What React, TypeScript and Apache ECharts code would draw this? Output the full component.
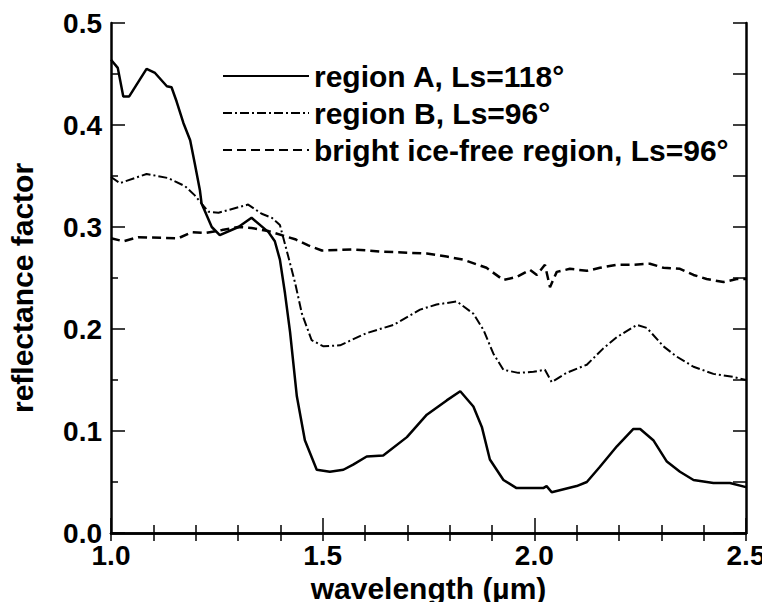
import React, { useEffect, useRef } from "react";
import * as echarts from "echarts";

const seriesNames = [
  "region A, Ls=118°",
  "region B, Ls=96°",
  "bright ice-free region, Ls=96°",
];

const regionA: [number, number][] = [
  [1.0, 0.464], [1.016, 0.456], [1.029, 0.428], [1.043, 0.428], [1.084, 0.455],
  [1.104, 0.451], [1.132, 0.438], [1.143, 0.437], [1.155, 0.423], [1.171, 0.402],
  [1.187, 0.385], [1.198, 0.362], [1.21, 0.336], [1.214, 0.323], [1.238, 0.3],
  [1.257, 0.292], [1.301, 0.3], [1.332, 0.309], [1.372, 0.295], [1.387, 0.286],
  [1.399, 0.268], [1.411, 0.235], [1.423, 0.197], [1.439, 0.134], [1.458, 0.091],
  [1.486, 0.062], [1.517, 0.06], [1.549, 0.062], [1.572, 0.067], [1.604, 0.075],
  [1.643, 0.076], [1.699, 0.094], [1.746, 0.116], [1.793, 0.13], [1.825, 0.139],
  [1.856, 0.124], [1.876, 0.104], [1.895, 0.072], [1.927, 0.052], [1.958, 0.044],
  [2.021, 0.044], [2.029, 0.046], [2.041, 0.04], [2.1, 0.046], [2.124, 0.05],
  [2.155, 0.065], [2.195, 0.085], [2.234, 0.102], [2.25, 0.102], [2.281, 0.091],
  [2.313, 0.07], [2.344, 0.06], [2.376, 0.052], [2.423, 0.049], [2.462, 0.049],
  [2.5, 0.045],
];

const regionB: [number, number][] = [
  [1.0, 0.349], [1.021, 0.343], [1.084, 0.352], [1.135, 0.348], [1.175, 0.34],
  [1.198, 0.331], [1.214, 0.323], [1.23, 0.315], [1.254, 0.314], [1.324, 0.322],
  [1.356, 0.313], [1.38, 0.309], [1.399, 0.302], [1.415, 0.277], [1.435, 0.245],
  [1.451, 0.215], [1.474, 0.189], [1.502, 0.183], [1.541, 0.184], [1.604, 0.196],
  [1.667, 0.204], [1.73, 0.219], [1.769, 0.224], [1.817, 0.227], [1.856, 0.215],
  [1.88, 0.199], [1.903, 0.176], [1.927, 0.16], [1.962, 0.157], [1.998, 0.158],
  [2.025, 0.16], [2.041, 0.148], [2.076, 0.157], [2.124, 0.165], [2.163, 0.181],
  [2.195, 0.192], [2.242, 0.204], [2.266, 0.201], [2.305, 0.183], [2.336, 0.173],
  [2.376, 0.163], [2.423, 0.156], [2.47, 0.153], [2.5, 0.15],
];

const brightIceFree: [number, number][] = [
  [1.0, 0.289], [1.029, 0.286], [1.064, 0.29], [1.159, 0.289], [1.191, 0.295],
  [1.222, 0.294], [1.262, 0.297], [1.301, 0.3], [1.332, 0.299], [1.372, 0.296],
  [1.411, 0.291], [1.435, 0.288], [1.466, 0.282], [1.498, 0.277], [1.572, 0.278],
  [1.635, 0.276], [1.746, 0.274], [1.793, 0.271], [1.832, 0.268], [1.887, 0.26],
  [1.927, 0.248], [1.958, 0.251], [1.99, 0.258], [2.006, 0.253], [2.025, 0.263],
  [2.037, 0.241], [2.053, 0.256], [2.084, 0.259], [2.124, 0.257], [2.155, 0.26],
  [2.195, 0.263], [2.234, 0.263], [2.273, 0.264], [2.305, 0.26], [2.344, 0.259],
  [2.376, 0.253], [2.407, 0.249], [2.447, 0.246], [2.478, 0.249], [2.5, 0.249],
];

const xTitle = "wavelength (µm)";
const yTitle = "reflectance factor";

export default function App() {
  const ref = useRef<HTMLDivElement>(null);
  useEffect(() => {
    if (!ref.current) return;
    const chart = echarts.init(ref.current, undefined, { renderer: "svg" });
    const font = "Liberation Sans, Arial, Helvetica, sans-serif";
    const axisLine = { show: true, lineStyle: { color: "#000", width: 2.5 } };
    chart.setOption({
      animation: false,
      backgroundColor: "#fff",
      textStyle: { fontFamily: font, color: "#000" },
      grid: { left: 111, top: 23, right: 24, bottom: 77, containLabel: false },
      legend: {
        orient: "vertical",
        left: 222,
        top: 61,
        padding: 0,
        itemWidth: 86,
        itemHeight: 14,
        itemGap: 7,
        data: seriesNames,
        textStyle: { fontSize: 30, fontWeight: "bold", color: "#000", fontFamily: font },
        itemStyle: { opacity: 0 },
        selectedMode: false,
      },
      graphic: [
        {
          type: "text",
          x: 22,
          y: 288,
          rotation: Math.PI / 2,
          style: {
            text: yTitle,
            fontSize: 30,
            fontWeight: "bold",
            fontFamily: font,
            fill: "#000",
            align: "center",
            verticalAlign: "middle",
          },
        },
      ],
      xAxis: [
        {
          type: "value",
          min: 1,
          max: 2.5,
          interval: 0.5,
          position: "bottom",
          name: xTitle,
          nameLocation: "middle",
          nameGap: 37,
          nameTextStyle: { fontSize: 30, fontWeight: "bold", color: "#000", fontFamily: font },
          axisLine,
          axisTick: { show: true, inside: true, length: 15, lineStyle: { color: "#000", width: 1.5 } },
          minorTick: { show: true, splitNumber: 5, length: 8, lineStyle: { color: "#000", width: 1.5 } },
          axisLabel: {
            fontSize: 28,
            fontWeight: "bold",
            color: "#000",
            margin: 8,
            formatter: (v: number) => v.toFixed(1),
          },
          splitLine: { show: false },
        },
        {
          type: "value",
          min: 1,
          max: 2.5,
          interval: 0.1,
          position: "top",
          axisLine,
          axisTick: { show: true, inside: true, length: 8, lineStyle: { color: "#000", width: 1.5 } },
          axisLabel: { show: false },
          splitLine: { show: false },
        },
      ],
      yAxis: [
        {
          type: "value",
          min: 0,
          max: 0.5,
          interval: 0.1,
          position: "left",
          axisLine,
          axisTick: { show: true, inside: true, length: 14, lineStyle: { color: "#000", width: 1.5 } },
          minorTick: { show: true, splitNumber: 2, length: 7, lineStyle: { color: "#000", width: 1.5 } },
          axisLabel: {
            fontSize: 28,
            fontWeight: "bold",
            color: "#000",
            margin: 9,
            formatter: (v: number) => v.toFixed(1),
          },
          splitLine: { show: false },
        },
        {
          type: "value",
          min: 0,
          max: 0.5,
          interval: 0.05,
          position: "right",
          axisLine,
          axisTick: { show: true, inside: true, length: 13, lineStyle: { color: "#000", width: 1.5 } },
          axisLabel: { show: false },
          splitLine: { show: false },
        },
      ],
      series: [
        {
          name: seriesNames[0],
          type: "line",
          data: regionA,
          symbol: "none",
          itemStyle: { color: "#000" },
          lineStyle: { color: "#000", width: 2.5, type: "solid" },
          z: 3,
        },
        {
          name: seriesNames[1],
          type: "line",
          data: regionB,
          symbol: "none",
          itemStyle: { color: "#000" },
          lineStyle: { color: "#000", width: 2, type: [9, 3, 2, 3] },
          z: 2,
        },
        {
          name: seriesNames[2],
          type: "line",
          data: brightIceFree,
          symbol: "none",
          itemStyle: { color: "#000" },
          lineStyle: { color: "#000", width: 2.5, type: [9, 5] },
          z: 2,
        },
      ],
    });
    return () => chart.dispose();
  }, []);
  return <div ref={ref} style={{ width: 770, height: 610, margin: -8 }} />;
}
